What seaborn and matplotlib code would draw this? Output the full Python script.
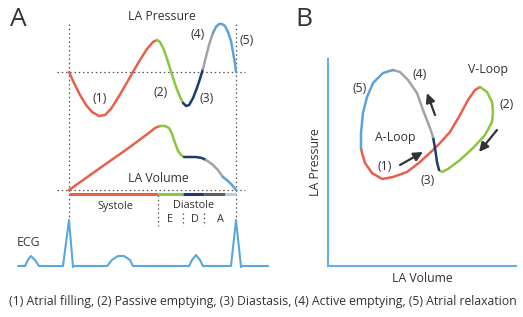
import numpy as np
import pandas as pd
import seaborn as sns
import matplotlib.pyplot as plt

# phases: (1) filling, (2) passive emptying, (3) diastasis, (4) active emptying, (5) relaxation
phase_colors = ["#e8604c", "#8cc63e", "#1d3a6b", "#a3a3a3", "#5ba3d9"]
legend_text = "(1) Atrial filling, (2) Passive emptying, (3) Diastasis, (4) Active emptying, (5) Atrial relaxation"

#%%
# Panel A - time in % of the cardiac cycle
press_t = [0, 3.0, 6.6, 10.2, 13.8, 18.0, 21.6, 25.1, 29.3, 33.5, 38.3, 42.5, 46.7, 50.3, 52.7,
           54.5, 56.9, 59.3, 61.7, 64.1, 66.5, 68.3,
           70.1, 71.9, 74.3, 76.6, 78.4, 80.2,
           82.0, 83.8, 86.2,
           88.0, 89.8, 91.6, 93.4, 95.2, 97.0, 98.2, 99.4, 100]
press_v = [0, -1.1, -2.3, -3.3, -4.0, -4.4, -4.3, -3.7, -2.6, -1.4, 0, 1.2, 2.3, 3.0, 3.2,
           3.0, 2.2, 1.0, -0.3, -1.5, -2.5, -3.1,
           -3.4, -3.3, -2.6, -1.6, -0.7, 0.3,
           1.5, 2.7, 3.9,
           4.5, 4.8, 4.8, 4.6, 4.0, 3.1, 2.0, 0.8, 0]
press_edges = [0, 52.7, 68.3, 80.2, 86.2, 100]

vol_t = [0, 18.6, 36.5, 48.5, 51.5, 54.5,
         57.5, 59.9, 61.7, 63.5, 65.3, 67.1, 68.9,
         72.5, 76.0, 79.6, 82.0,
         85.6, 89.2, 92.2,
         95.2, 97.6, 100]
vol_v = [0, 2.2, 4.3, 5.8, 6.2, 6.4,
         6.4, 6.2, 5.6, 4.7, 3.9, 3.5, 3.3,
         3.3, 3.3, 3.2, 3.0,
         2.6, 2.0, 1.3,
         0.9, 0.5, 0]
vol_edges = [0, 54.5, 68.9, 82.0, 92.2, 100]
bar_edges = [0, 53.3, 68.3, 80.8, 93.4, 100]
bar_colors = ["#e8604c", "#8cc63e", "#1d3a6b", "#5f5f5f", "#a9d0ee"]

ecg_t = [-30.5, -26.3, -24.6, -22.8, -20.4, -18.0, -3.6, 0, 2.4, 3.0, 22.8, 25.7, 29.3, 32.9,
         36.5, 38.3, 71.9, 73.7, 76.0, 78.4, 80.2, 97.0, 100, 103.0, 103.6, 119.2]
ecg_mv = [0, 0, 0.6, 1.0, 0.6, 0, 0, 4.6, -0.1, 0, 0, 0.6, 1.0, 1.0,
          0.6, 0, 0, 0.6, 1.1, 0.6, 0, 0, 4.6, -0.1, 0, 0]

# Panel B - pressure-volume loop, one closed path
loop_vol = [3.3, 3.4, 3.7, 4.4, 5.4, 6.5, 7.9, 9.2, 10.5, 11.2, 12.2, 13.2, 14.0, 14.7, 15.2,
            15.9, 16.4, 16.5, 16.4, 15.7, 14.5, 13.2, 12.0, 11.4, 11.1,
            10.9, 10.7, 10.5,
            10.2, 10.0, 9.5, 8.9, 8.0, 7.2, 6.5,
            5.5, 4.5, 3.9, 3.5, 3.3, 3.3]
loop_pres = [11.8, 11.3, 10.3, 9.3, 8.7, 8.9, 9.4, 10.4, 11.6, 12.3, 13.4, 15.1, 16.6, 17.6, 17.9,
             17.4, 16.4, 15.4, 14.4, 13.1, 11.8, 10.6, 9.7, 9.4, 9.6,
             10.4, 11.8, 12.9,
             13.8, 14.3, 15.6, 17.3, 18.6, 19.4, 19.6,
             19.3, 18.3, 16.9, 15.3, 13.3, 11.8]
loop_breaks = [0, 14, 24, 27, 34, 40]

#%%
sns.set_theme(style="white")
plt.rcParams['font.family'] = ['Open Sans', 'DejaVu Sans']
txt = "#333333"
dot = dict(color="#555555", lw=0.9, ls=(0, (1.2, 2.2)))

fig = plt.figure(figsize=(5.23, 3.17), dpi=100)
ov = fig.add_axes([0, 0, 1, 1])
ov.set_xlim(0, 523)
ov.set_ylim(317, 0)
ov.axis("off")

# layout of panel A (pixels)
X0, XS = 69, 1.67
P0, V0, E0, YS = 72, 190, 266, 10


def tx(t):
    return X0 + np.asarray(t, float) * XS


def draw_phases(t, v, edges, base):
    t = np.asarray(t, float)
    v = np.asarray(v, float)
    for i, c in enumerate(phase_colors):
        m = (t >= edges[i]) & (t <= edges[i + 1])
        df = pd.DataFrame({"x": tx(t[m]), "y": base - v[m] * YS})
        sns.lineplot(data=df, x="x", y="y", sort=False, estimator=None, color=c,
                     lw=1.8, ax=ov, solid_capstyle="round")


# guide lines
for t in (0, 100):
    ov.plot([tx(t)] * 2, [24, 219], **dot)
ov.plot([57, 245], [P0, P0], **dot)
ov.plot([57, 245], [V0, V0], **dot)
ov.plot([tx(bar_edges[1])] * 2, [195, 226], **dot)
ov.plot([tx(bar_edges[2])] * 2, [213, 226], **dot)
ov.plot([tx(bar_edges[3])] * 2, [213, 226], **dot)

draw_phases(press_t, press_v, press_edges, P0)
draw_phases(vol_t, vol_v, vol_edges, V0)

for i, c in enumerate(bar_colors):
    ov.plot(tx(bar_edges[i:i + 2]), [194, 194], color=c, lw=2.2, solid_capstyle="butt")

ecg_df = pd.DataFrame({"x": tx(ecg_t), "y": E0 - np.asarray(ecg_mv) * YS})
sns.lineplot(data=ecg_df, x="x", y="y", sort=False, estimator=None, color="#5aa7dc",
             lw=1.5, ax=ov)

fs = 8.8
sm = 7.8
ov.text(18, 20, "A", fontsize=19, color=txt, ha="center", va="center")
ov.text(162, 17, "LA Pressure", fontsize=fs, color=txt, ha="center", va="center")
ov.text(158, 179, "LA Volume", fontsize=fs, color=txt, ha="center", va="center")
for s, x, y in [("(1)", 100, 98), ("(2)", 161, 92), ("(3)", 207, 99), ("(4)", 198, 35), ("(5)", 247, 41)]:
    ov.text(x, y, s, fontsize=fs, color=txt, ha="center", va="center")
ov.text(115, 206, "Systole", fontsize=sm, color=txt, ha="center", va="center")
ov.text(194, 206, "Diastole", fontsize=sm, color=txt, ha="center", va="center")
for s, x in [("E", 170), ("D", 195), ("A", 220)]:
    ov.text(x, 220, s, fontsize=sm, color=txt, ha="center", va="center")
ov.text(28, 243, "ECG", fontsize=fs, color=txt, ha="center", va="center")

ov.text(304, 20, "B", fontsize=19, color=txt, ha="center", va="center")
ov.text(263, 302, legend_text, fontsize=fs, color=txt, ha="center", va="center")

#%%
# Panel B
axB = fig.add_axes([328 / 523, (317 - 266) / 317, (516 - 328) / 523, (266 - 59) / 317])
axB.set_facecolor("none")
axB.set_xlim(0, 18.8)
axB.set_ylim(0, 20.7)
for side in ("top", "right"):
    axB.spines[side].set_visible(False)
for side in ("left", "bottom"):
    axB.spines[side].set_color("#6aaee0")
    axB.spines[side].set_linewidth(1.5)

for i, c in enumerate(phase_colors):
    a, b = loop_breaks[i], loop_breaks[i + 1] + 1
    df = pd.DataFrame({"v": loop_vol[a:b], "p": loop_pres[a:b]})
    sns.lineplot(data=df, x="v", y="p", sort=False, estimator=None, color=c, lw=1.8,
                 ax=axB, solid_capstyle="round")
axB.set_xticks([])
axB.set_yticks([])
axB.set_xlabel("LA Volume", fontsize=fs, color=txt, labelpad=4, visible=True)
axB.set_ylabel("LA Pressure", fontsize=fs, color=txt, labelpad=4, visible=True)

arrows = [((7.2, 10.1), (9.5, 11.4)), ((10.7, 15.1), (9.9, 17.3)), ((16.9, 13.6), (15.1, 11.4))]
for start, end in arrows:
    axB.annotate("", xy=end, xytext=start,
                 arrowprops=dict(arrowstyle="-|>,head_length=0.45,head_width=0.22",
                                 color="#333333", lw=1.6, shrinkA=0, shrinkB=0))

for s, x, y in [("(4)", 9.2, 19.1), ("(5)", 3.2, 17.7), ("V-Loop", 16.0, 19.7), ("(2)", 17.9, 16.1),
                ("A-Loop", 6.7, 12.8), ("(1)", 5.7, 9.9), ("(3)", 10.0, 8.5)]:
    axB.text(x, y, s, fontsize=fs, color=txt, ha="center", va="center")

fig.savefig("out.png", dpi=100)
